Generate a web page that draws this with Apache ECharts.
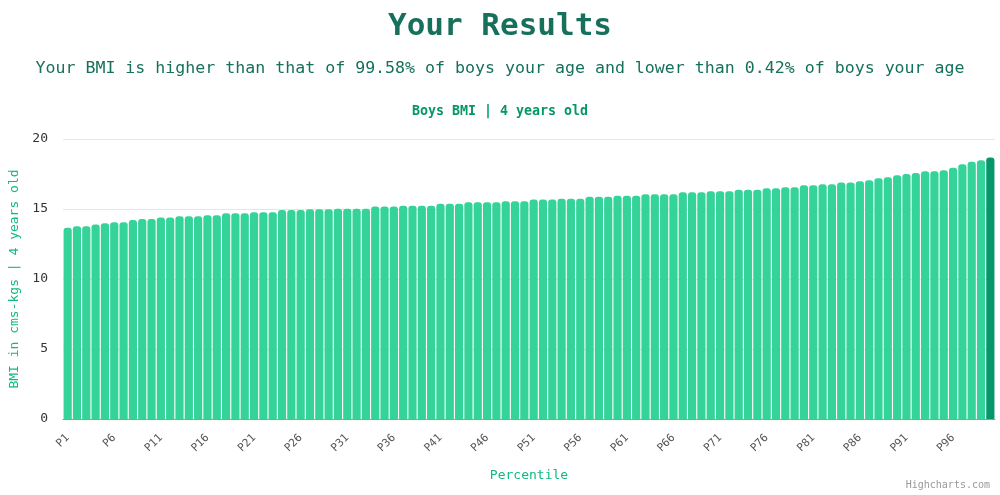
<!DOCTYPE html>
<html>
<head>
<meta charset="utf-8">
<title>Your Results</title>
<script src="https://cdn.jsdelivr.net/npm/echarts@6/dist/echarts.min.js"></script>
<style>
  html, body { margin: 0; padding: 0; background: #fff; }
  #chart { width: 1000px; height: 495px; }
</style>
</head>
<body>
<div id="chart"></div>
<script>
// 百分位 P1..P100
var percentiles = [];
for (var i = 1; i <= 100; i++) {
  percentiles.push('P' + i);
}
// BMI 值 (4岁男孩)
var bmiValues = [
  13.66, 13.76, 13.76, 13.90, 13.98, 14.05, 14.05, 14.21, 14.28, 14.28,
  14.40, 14.40, 14.48, 14.48, 14.48, 14.55, 14.55, 14.69, 14.69, 14.69,
  14.76, 14.76, 14.76, 14.93, 14.93, 14.93, 14.98, 14.98, 14.98, 15.02,
  15.02, 15.02, 15.02, 15.17, 15.17, 15.17, 15.24, 15.24, 15.24, 15.24,
  15.38, 15.38, 15.38, 15.48, 15.48, 15.48, 15.48, 15.55, 15.55, 15.55,
  15.67, 15.67, 15.67, 15.74, 15.74, 15.74, 15.88, 15.88, 15.88, 15.95,
  15.95, 15.95, 16.05, 16.05, 16.05, 16.05, 16.19, 16.19, 16.19, 16.26,
  16.26, 16.26, 16.38, 16.38, 16.38, 16.48, 16.48, 16.55, 16.55, 16.69,
  16.69, 16.76, 16.76, 16.90, 16.90, 16.98, 17.05, 17.19, 17.26, 17.41,
  17.50, 17.57, 17.69, 17.69, 17.76, 17.95, 18.19, 18.38, 18.48, 18.67
];
// 用户所在的百分位 (高亮)
var userIndex = 99;
var yTicks = [0, 5, 10, 15, 20];

var mono = '"DejaVu Sans Mono", "Liberation Mono", monospace';
var dom = document.getElementById('chart');
var myChart = echarts.init(dom);
var option = {
  backgroundColor: '#fff',
  animation: false,
  title: [{
    text: 'Your Results',
    left: 'center',
    top: 6,
    textStyle: { fontFamily: mono, fontSize: 31, fontWeight: 'bold', color: '#17705c' }
  }, {
    text: 'Your BMI is higher than that of 99.58% of boys your age and lower than 0.42% of boys your age',
    left: 'center',
    top: 55,
    textStyle: { fontFamily: mono, fontSize: 16.6, fontWeight: 'normal', color: '#17705c' }
  }, {
    text: 'Boys BMI | 4 years old',
    left: 'center',
    top: 100,
    textStyle: { fontFamily: mono, fontSize: 13.3, fontWeight: 'bold', color: '#059669' }
  }],
  graphic: [{
    type: 'text',
    right: 10,
    bottom: 5,
    style: { text: 'Highcharts.com', fontFamily: mono, fontSize: 10, fill: '#999' }
  }],
  grid: {
    left: 63,
    right: 5,
    top: 139,
    bottom: 76,
    containLabel: false,
    outerBoundsMode: 'none'
  },
  xAxis: {
    type: 'category',
    data: percentiles,
    name: 'Percentile',
    nameLocation: 'middle',
    nameGap: 50,
    nameTextStyle: { fontFamily: mono, fontSize: 13, color: '#10b981' },
    axisLine: { lineStyle: { color: '#999', width: 1 } },
    axisTick: { show: false },
    axisLabel: {
      interval: 4,
      rotate: 45,
      margin: 17,
      fontFamily: mono,
      fontSize: 11,
      color: '#555'
    }
  },
  yAxis: {
    type: 'value',
    min: yTicks[0],
    max: yTicks[yTicks.length - 1],
    interval: 5,
    name: 'BMI in cms-kgs | 4 years old',
    nameLocation: 'middle',
    nameGap: 40,
    nameTextStyle: { fontFamily: mono, fontSize: 13, color: '#10b981' },
    axisLine: { show: false },
    axisTick: { show: false },
    splitLine: { lineStyle: { color: '#e6e6e6' } },
    axisLabel: { fontFamily: mono, fontSize: 13, color: '#333', margin: 15 }
  },
  series: [{
    type: 'bar',
    data: bmiValues,
    barCategoryGap: '12%',
    itemStyle: {
      borderRadius: [3, 3, 0, 0],
      color: function (p) {
        return p.dataIndex === userIndex ? '#059669' : '#34d399';
      }
    }
  }]
};
myChart.setOption(option, true);
</script>
</body>
</html>
